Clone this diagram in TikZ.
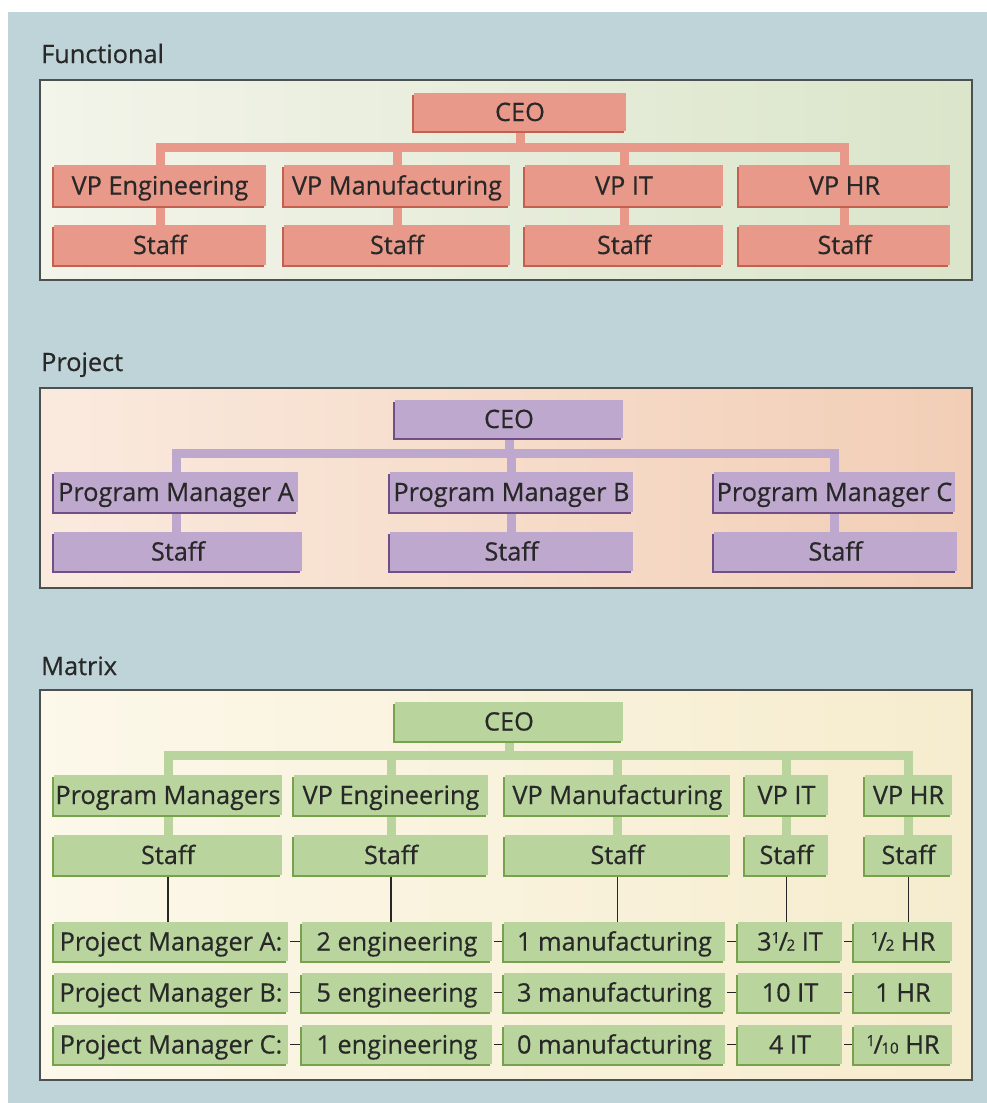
\documentclass[tikz,border=0pt]{standalone}
\usepackage{fontspec}
\setmainfont[FakeBold=0.5]{Open Sans}
\usetikzlibrary{shadows}

\pgfdeclarelayer{panel}
\pgfdeclarelayer{links}
\pgfsetlayers{panel,links,main}

\newcommand\smallfrac[2]{\raisebox{.55ex}{\scalebox{.6}{#1}}\kern-.06em/\kern-.06em\scalebox{.6}{#2}}

\begin{document}
\begin{tikzpicture}[x=1pt, y=-1pt,
  orgbox/.style={rectangle, inner sep=0pt, text=textgray, font=\boxfont, text height=\capheight, text depth=0pt, fill=#1, drop shadow={shadow xshift=-2pt, shadow yshift=-2pt, opacity=1, fill=#1dark}},
  link/.style={draw=#1, line width=9pt, line cap=rect, preaction={draw=#1dark, transform canvas={shift={(-2pt,-2pt)}}}},
  mline/.style={draw=black!85, line width=1.6pt},
  panel/.style={draw=panelgray, line width=1.6pt, left color=#1left, right color=#1right},
  title/.style={anchor=base west, inner sep=0pt, font=\boxfont, text=textgray}]

\def\boxfont{\fontsize{25.3}{30}\selectfont}
\def\capheight{18pt}
\definecolor{bgblue}{RGB}{190,212,217}
\definecolor{textgray}{RGB}{40,40,40}
\definecolor{panelgray}{RGB}{75,80,80}
\definecolor{funleft}{RGB}{243,244,234}
\definecolor{funright}{RGB}{218,229,202}
\definecolor{proleft}{RGB}{250,234,222}
\definecolor{proright}{RGB}{242,206,182}
\definecolor{matleft}{RGB}{252,248,234}
\definecolor{matright}{RGB}{246,236,206}
\definecolor{salmon}{RGB}{233,153,137}
\definecolor{salmondark}{RGB}{196,96,80}
\definecolor{lilac}{RGB}{190,168,206}
\definecolor{lilacdark}{RGB}{112,78,135}
\definecolor{sage}{RGB}{185,213,157}
\definecolor{sagedark}{RGB}{118,162,78}

\useasboundingbox (0,0) rectangle (987,1103);

% Hintergrund und Felder
\begin{pgfonlayer}{panel}
\fill[bgblue] (8,12) rectangle (987,1103);
\draw[panel=fun] (40,80) rectangle (972,280);
\draw[panel=pro] (40,388) rectangle (972,588);
\draw[panel=mat] (40,690) rectangle (972,1080);
\end{pgfonlayer}

\node[title] (tfun) at (41,63) {Functional};
\node[title] (tpro) at (41,371) {Project};
\node[title] (tmat) at (41,675) {Matrix};

% Functional
\node[orgbox=salmon, minimum width=212pt, minimum height=38pt] (fceo) at (520,112) {CEO};

\node[orgbox=salmon, minimum width=212pt, minimum height=41pt] (fvp1) at (160,185.5) {VP Engineering};
\node[orgbox=salmon, minimum width=226pt, minimum height=41pt] (fvp2) at (397,185.5) {VP Manufacturing};
\node[orgbox=salmon, minimum width=198pt, minimum height=41pt] (fvp3) at (624,185.5) {VP IT};
\node[orgbox=salmon, minimum width=211pt, minimum height=41pt] (fvp4) at (844.5,185.5) {VP HR};

\node[orgbox=salmon, minimum width=212pt, minimum height=40pt] (fst1) at (160,245) {Staff};
\node[orgbox=salmon, minimum width=226pt, minimum height=40pt] (fst2) at (397,245) {Staff};
\node[orgbox=salmon, minimum width=198pt, minimum height=40pt] (fst3) at (624,245) {Staff};
\node[orgbox=salmon, minimum width=211pt, minimum height=40pt] (fst4) at (844.5,245) {Staff};

\coordinate (fbar) at (0,147);

% Project
\node[orgbox=lilac, minimum width=228pt, minimum height=38pt] (pceo) at (509,419) {CEO};

\node[orgbox=lilac, minimum width=244pt, minimum height=40pt] (ppm1) at (176,492) {Program Manager A};
\node[orgbox=lilac, minimum width=243pt, minimum height=40pt] (ppm2) at (511.5,492) {Program Manager B};
\node[orgbox=lilac, minimum width=241pt, minimum height=40pt] (ppm3) at (834.5,492) {Program Manager C};

\node[orgbox=lilac, minimum width=248pt, minimum height=39pt] (pst1) at (178,551.5) {Staff};
\node[orgbox=lilac, minimum width=243pt, minimum height=39pt] (pst2) at (511.5,551.5) {Staff};
\node[orgbox=lilac, minimum width=243pt, minimum height=39pt] (pst3) at (835.5,551.5) {Staff};

\coordinate (pbar) at (0,453);

% Matrix
\node[orgbox=sage, minimum width=228pt, minimum height=39pt] (mceo) at (509,721.5) {CEO};

\node[orgbox=sage, minimum width=228pt, minimum height=40pt] (mvp1) at (168,795) {Program Managers};
\node[orgbox=sage, minimum width=194pt, minimum height=40pt] (mvp2) at (391,795) {VP Engineering};
\node[orgbox=sage, minimum width=225pt, minimum height=40pt] (mvp3) at (617.5,795) {VP Manufacturing};
\node[orgbox=sage, minimum width=83pt, minimum height=40pt] (mvp4) at (786.5,795) {VP IT};
\node[orgbox=sage, minimum width=87pt, minimum height=40pt] (mvp5) at (908.5,795) {VP HR};

\node[orgbox=sage, minimum width=228pt, minimum height=40pt] (mst1) at (168,855) {Staff};
\node[orgbox=sage, minimum width=194pt, minimum height=40pt] (mst2) at (391,855) {Staff};
\node[orgbox=sage, minimum width=225pt, minimum height=40pt] (mst3) at (617.5,855) {Staff};
\node[orgbox=sage, minimum width=83pt, minimum height=40pt] (mst4) at (786.5,855) {Staff};
\node[orgbox=sage, minimum width=87pt, minimum height=40pt] (mst5) at (908.5,855) {Staff};

\coordinate (mbar) at (0,755);

\node[orgbox=sage, minimum width=234pt, minimum height=39pt] (mr1c1) at (171,941.5) {Project Manager A:};
\node[orgbox=sage, minimum width=190pt, minimum height=39pt] (mr1c2) at (397,941.5) {2 engineering};
\node[orgbox=sage, minimum width=221pt, minimum height=39pt] (mr1c3) at (614.5,941.5) {1 manufacturing};
\node[orgbox=sage, minimum width=104pt, minimum height=39pt] (mr1c4) at (790,941.5) {3\smallfrac{1}{2} IT};
\node[orgbox=sage, minimum width=98pt, minimum height=39pt] (mr1c5) at (903,941.5) {\smallfrac{1}{2} HR};

\node[orgbox=sage, minimum width=234pt, minimum height=39pt] (mr2c1) at (171,992.5) {Project Manager B:};
\node[orgbox=sage, minimum width=190pt, minimum height=39pt] (mr2c2) at (397,992.5) {5 engineering};
\node[orgbox=sage, minimum width=221pt, minimum height=39pt] (mr2c3) at (614.5,992.5) {3 manufacturing};
\node[orgbox=sage, minimum width=104pt, minimum height=39pt] (mr2c4) at (790,992.5) {10 IT};
\node[orgbox=sage, minimum width=98pt, minimum height=39pt] (mr2c5) at (903,992.5) {1 HR};

\node[orgbox=sage, minimum width=234pt, minimum height=39pt] (mr3c1) at (171,1044.5) {Project Manager C:};
\node[orgbox=sage, minimum width=190pt, minimum height=39pt] (mr3c2) at (397,1044.5) {1 engineering};
\node[orgbox=sage, minimum width=221pt, minimum height=39pt] (mr3c3) at (614.5,1044.5) {0 manufacturing};
\node[orgbox=sage, minimum width=104pt, minimum height=39pt] (mr3c4) at (790,1044.5) {4 IT};
\node[orgbox=sage, minimum width=98pt, minimum height=39pt] (mr3c5) at (903,1044.5) {\smallfrac{1}{10} HR};

% Verbindungen
\begin{pgfonlayer}{links}
\draw[link=salmon] (fceo.south) -- (fceo.south |- fbar) (fvp1.north |- fbar) -- (fvp4.north |- fbar)
  foreach \i in {1,...,4} {(fvp\i.north |- fbar) -- (fvp\i.north) (fvp\i.south) -- (fvp\i.south |- fst\i.north)};

\draw[link=lilac] (pceo.south) -- (pceo.south |- pbar) (ppm1.north |- pbar) -- (ppm3.north |- pbar)
  foreach \i in {1,...,3} {(ppm\i.north |- pbar) -- (ppm\i.north) (ppm\i.south) -- (ppm\i.south |- pst\i.north)};

\draw[link=sage] (mceo.south) -- (mceo.south |- mbar) (mvp1.north |- mbar) -- (mvp5.north |- mbar)
  foreach \i in {1,...,5} {(mvp\i.north |- mbar) -- (mvp\i.north) (mvp\i.south) -- (mvp\i.south |- mst\i.north)};

\foreach \i in {1,...,5}
  \draw[mline] (mst\i.south) -- (mst\i.south |- mr1c\i.north);

\foreach \r in {1,2,3}
  \foreach \a/\b in {1/2,2/3,3/4,4/5}
    \draw[mline, shorten <=2pt] (mr\r c\a.east) -- (mr\r c\b.west);
\end{pgfonlayer}

\end{tikzpicture}
\end{document}
